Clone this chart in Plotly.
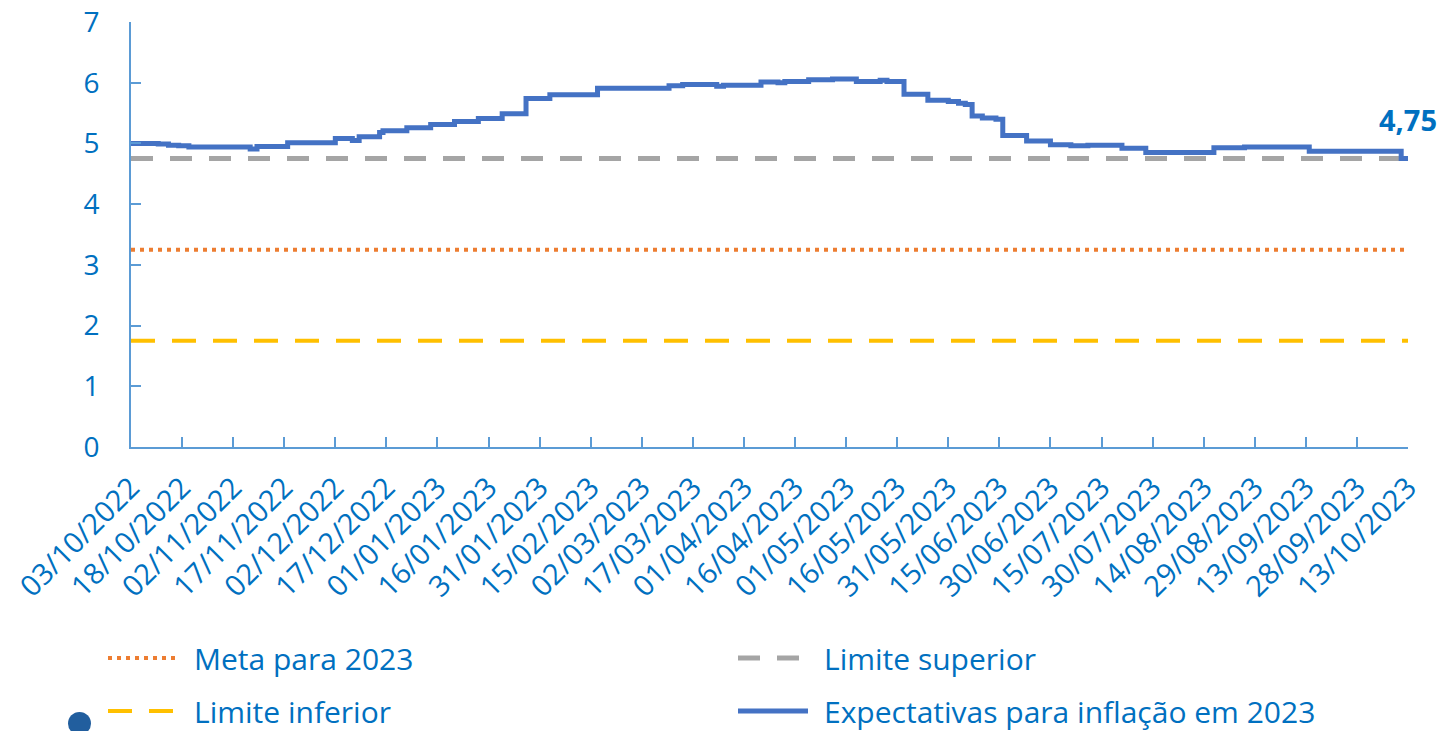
import plotly.graph_objects as go
from datetime import datetime

# ---------------- data ----------------
exp_dates = [
    "2022-10-03", "2022-10-11", "2022-10-14", "2022-10-17", "2022-10-20",
    "2022-11-07", "2022-11-09", "2022-11-18", "2022-12-02", "2022-12-07",
    "2022-12-09", "2022-12-15", "2022-12-16", "2022-12-23", "2022-12-30",
    "2023-01-06", "2023-01-13", "2023-01-20", "2023-01-27", "2023-02-03",
    "2023-02-17", "2023-03-10", "2023-03-14", "2023-03-24", "2023-03-26",
    "2023-04-06", "2023-04-11", "2023-04-13", "2023-04-20", "2023-04-27",
    "2023-05-04", "2023-05-11", "2023-05-13", "2023-05-18", "2023-05-25",
    "2023-05-31", "2023-06-03", "2023-06-05", "2023-06-07", "2023-06-10",
    "2023-06-14", "2023-06-16", "2023-06-23", "2023-06-30", "2023-07-06",
    "2023-07-11", "2023-07-21", "2023-07-28", "2023-08-17", "2023-08-26",
    "2023-09-14", "2023-10-11", "2023-10-13",
]
exp_values = [
    5.00, 4.99, 4.97, 4.96, 4.94,
    4.91, 4.95, 5.01, 5.08, 5.05,
    5.11, 5.18, 5.21, 5.26, 5.31,
    5.36, 5.41, 5.49, 5.74, 5.80,
    5.91, 5.95, 5.97, 5.94, 5.96,
    6.01, 6.00, 6.02, 6.05, 6.06,
    6.02, 6.04, 6.02, 5.81, 5.71,
    5.69, 5.66, 5.64, 5.45, 5.42,
    5.40, 5.13, 5.04, 4.98, 4.96,
    4.97, 4.92, 4.85, 4.93, 4.94,
    4.87, 4.75, 4.75,
]

band_dates = ["2022-10-03", "2023-10-13"]
meta_values = [3.25, 3.25]
sup_values = [4.75, 4.75]
inf_values = [1.75, 1.75]

tick_labels = [
    "03/10/2022", "18/10/2022", "02/11/2022", "17/11/2022", "02/12/2022",
    "17/12/2022", "01/01/2023", "16/01/2023", "31/01/2023", "15/02/2023",
    "02/03/2023", "17/03/2023", "01/04/2023", "16/04/2023", "01/05/2023",
    "16/05/2023", "31/05/2023", "15/06/2023", "30/06/2023", "15/07/2023",
    "30/07/2023", "14/08/2023", "29/08/2023", "13/09/2023", "28/09/2023",
    "13/10/2023",
]
last_label = "4,75"

names = ["Meta para 2023", "Limite superior", "Limite inferior",
         "Expectativas para inflação em 2023"]

# ---------------- style ----------------
FONT = "Open Sans"
TXT = "#0070C0"
AXIS = "#5B9BD5"
C_META = "#ED7D31"
C_SUP = "#A5A5A5"
C_INF = "#FFC000"
C_EXP = "#4472C4"
DASH_META = "4px,5px"
DASH_SUP = "22px,17px"
DASH_INF = "24px,17px"

OFF = 0                      # page body margin removed via post_script
W, H = 1455, 731
PLOT_L, PLOT_R, PLOT_T, PLOT_B = 131, 1408, 22, 447   # screen pixels
L, T = PLOT_L - OFF, PLOT_T - OFF
PW, PH = PLOT_R - PLOT_L, PLOT_B - PLOT_T
R, B = W - L - PW, H - T - PH


def px_x(px):
    return (px - PLOT_L) / PW


def px_y(py):
    return (PLOT_B - py) / PH


tickvals = [datetime.strptime(s, "%d/%m/%Y").strftime("%Y-%m-%d") for s in tick_labels]

fig = go.Figure()
fig.add_trace(go.Scatter(x=band_dates, y=meta_values, mode="lines", name=names[0],
                         line=dict(color=C_META, width=4, dash=DASH_META), showlegend=False))
fig.add_trace(go.Scatter(x=band_dates, y=sup_values, mode="lines", name=names[1],
                         line=dict(color=C_SUP, width=5, dash=DASH_SUP), showlegend=False))
fig.add_trace(go.Scatter(x=band_dates, y=inf_values, mode="lines", name=names[2],
                         line=dict(color=C_INF, width=4, dash=DASH_INF), showlegend=False))
fig.add_trace(go.Scatter(x=exp_dates, y=exp_values, mode="lines", name=names[3],
                         line=dict(color=C_EXP, width=5, shape="hv"), showlegend=False))

fig.add_annotation(x=exp_dates[-1], y=exp_values[-1], text="<b>%s</b>" % last_label,
                   showarrow=False, xanchor="center", yanchor="bottom", yshift=18,
                   font=dict(family=FONT, size=29, color=TXT))

# manual legend
legend_items = [
    (names[0], C_META, DASH_META, 4, 108, 658),
    (names[1], C_SUP, DASH_SUP, 5, 738, 658),
    (names[2], C_INF, DASH_INF, 4, 108, 711),
    (names[3], C_EXP, "solid", 5, 738, 711),
]
for name, col, dash, wd, x0, yy in legend_items:
    fig.add_shape(type="line", xref="paper", yref="paper",
                  x0=px_x(x0), x1=px_x(x0 + 70), y0=px_y(yy), y1=px_y(yy),
                  line=dict(color=col, width=wd, dash=dash))
    fig.add_annotation(xref="paper", yref="paper", x=px_x(x0 + 84), y=px_y(yy),
                       text=name, showarrow=False, xanchor="left", yanchor="middle",
                       font=dict(family=FONT, size=30, color=TXT))

# decorative circle (bottom-left)
fig.add_shape(type="circle", xref="paper", yref="paper",
              x0=px_x(68), x1=px_x(91), y0=px_y(712), y1=px_y(735),
              fillcolor="#215E9E", line=dict(width=0))

fig.update_layout(
    width=W, height=H,
    margin=dict(l=L, r=R, t=T, b=B, autoexpand=False),
    paper_bgcolor="white", plot_bgcolor="white",
    font=dict(family=FONT, size=30, color=TXT),
    showlegend=False,
)
fig.update_xaxes(
    type="date", range=[band_dates[0], band_dates[-1]],
    tickmode="array", tickvals=tickvals, ticktext=tick_labels, tickangle=-45,
    ticks="inside", ticklen=10, tickcolor=AXIS, tickwidth=1.5,
    showline=True, linecolor=AXIS, linewidth=2, showgrid=False, zeroline=False,
    tickfont=dict(family=FONT, size=29, color=TXT), ticklabelstandoff=10,
    ticklabeloverflow="allow",
)
fig.update_yaxes(
    range=[0, 7], dtick=1, tick0=0,
    ticks="inside", ticklen=10, tickcolor=AXIS, tickwidth=1.5,
    showline=True, linecolor=AXIS, linewidth=2, showgrid=False, zeroline=False,
    tickfont=dict(family=FONT, size=28, color=TXT), ticklabelstandoff=24,
    ticklabeloverflow="allow",
)

fig.write_html(
    "out.html",
    config={"displayModeBar": False},
    post_script="document.body.style.margin='0';document.body.style.overflow='hidden';",
)
